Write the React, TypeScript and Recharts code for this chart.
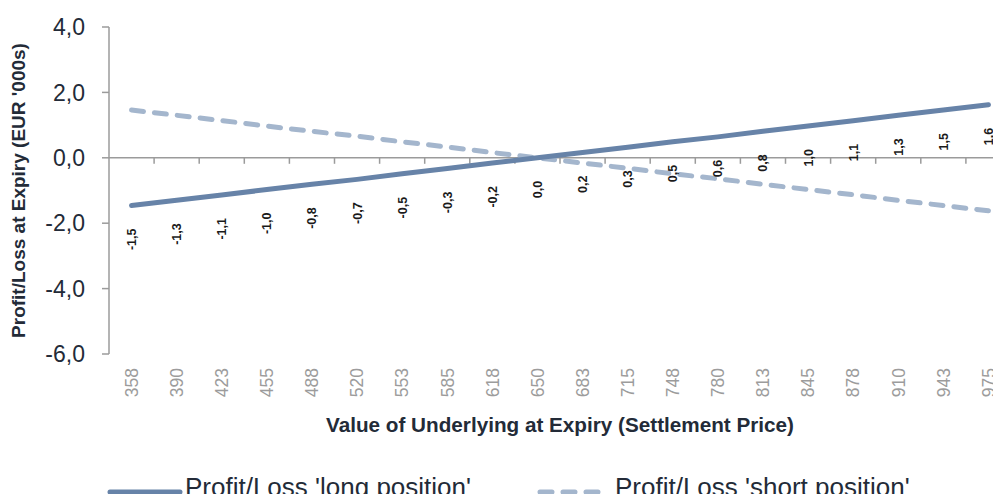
import React from 'react';
import { LineChart, Line, XAxis, YAxis, ReferenceLine, LabelList, Legend } from 'recharts';

const prices = [358, 390, 423, 455, 488, 520, 553, 585, 618, 650, 683, 715, 748, 780, 813, 845, 878, 910, 943, 975];
const longPL = [-1.46, -1.3, -1.14, -0.97, -0.81, -0.66, -0.49, -0.33, -0.16, 0.0, 0.16, 0.32, 0.49, 0.64, 0.81, 0.97, 1.13, 1.3, 1.46, 1.62];
const shortPL = [1.46, 1.3, 1.14, 0.97, 0.81, 0.66, 0.49, 0.33, 0.16, 0.0, -0.16, -0.32, -0.49, -0.64, -0.81, -0.97, -1.13, -1.3, -1.46, -1.62];
const yTicks = [-6, -4, -2, 0, 2, 4];

const LONG_NAME = "Profit/Loss 'long position'";
const SHORT_NAME = "Profit/Loss 'short position'";

const data = prices.map((p, i) => ({ price: String(p), long: longPL[i], short: shortPL[i] }));

const FONT = '"Liberation Sans", Arial, sans-serif';
const LONG_COLOR = '#6783a8';
const SHORT_COLOR = '#a4b6cd';
const AXIS_COLOR = '#9b9b9b';
const TEXT_COLOR = '#232b38';

const fmt = (v: number) => v.toFixed(1).replace('.', ',');

const XTick = (props: any) => {
  const { x, y, payload } = props;
  return (
    <text
      x={x}
      y={y}
      transform={`rotate(-90, ${x}, ${y})`}
      textAnchor="end"
      dy="0.36em"
      fill="#9c9c9c"
      fontSize={17.5}
      fontFamily={FONT}
    >
      {payload.value}
    </text>
  );
};

const ValueLabel = (props: any) => {
  const { x, y, value } = props;
  const ty = y + 23;
  return (
    <text
      x={x}
      y={ty}
      transform={`rotate(-90, ${x}, ${ty})`}
      textAnchor="end"
      dy="0.36em"
      fill="#1a1a1a"
      fontSize={12.5}
      fontWeight="bold"
      fontFamily={FONT}
    >
      {fmt(value)}
    </text>
  );
};

const ZeroAxis = (props: any) => {
  const { x1, y1, x2 } = props;
  const n = prices.length;
  const step = (x2 - x1) / n;
  const marks = [];
  for (let i = 1; i <= n; i++) {
    const tx = x1 + i * step;
    marks.push(<line key={i} x1={tx} x2={tx} y1={y1} y2={y1 + 6} stroke={AXIS_COLOR} strokeWidth={1.5} />);
  }
  return (
    <g>
      <line x1={x1} x2={x2} y1={y1} y2={y1} stroke={AXIS_COLOR} strokeWidth={1.5} />
      {marks}
    </g>
  );
};

const LegendContent = () => (
  <div style={{ position: 'relative', width: 1001, height: 34, fontFamily: FONT }}>
    <svg width={1001} height={34} style={{ position: 'absolute', left: 0, top: 0 }}>
      <line x1={110} x2={180} y1={24} y2={24} stroke={LONG_COLOR} strokeWidth={5} strokeLinecap="round" />
      <text x={185} y={28} fontSize={26} fill={TEXT_COLOR} fontFamily={FONT}>{LONG_NAME}</text>
      <line x1={540} x2={598} y1={24} y2={24} stroke={SHORT_COLOR} strokeWidth={5} strokeLinecap="round" strokeDasharray="12 11" />
      <text x={615} y={28} fontSize={26} fill={TEXT_COLOR} fontFamily={FONT}>{SHORT_NAME}</text>
    </svg>
  </div>
);

export default function App() {
  return (
    <div style={{ margin: -8, width: 1001, height: 502, overflow: 'hidden', position: 'relative', background: '#fff' }}>
      <LineChart width={1020} height={502} data={data} margin={{ top: 27, right: 9, bottom: 68, left: 0 }}>
        <XAxis
          dataKey="price"
          type="category"
          scale="band"
          interval={0}
          axisLine={false}
          tickLine={false}
          tickSize={0}
          tickMargin={14}
          height={80}
          tick={<XTick />}
          label={{
            value: 'Value of Underlying at Expiry (Settlement Price)',
            position: 'insideBottom',
            offset: 2,
            style: { fontSize: 20.7, fontWeight: 'bold', fill: TEXT_COLOR, fontFamily: FONT },
          }}
        />
        <YAxis
          type="number"
          domain={[-6, 4]}
          ticks={yTicks}
          interval={0}
          width={109}
          tickSize={7}
          tickMargin={17}
          tickFormatter={fmt}
          axisLine={{ stroke: AXIS_COLOR, strokeWidth: 1.5 }}
          tickLine={{ stroke: AXIS_COLOR, strokeWidth: 1.5 }}
          tick={{ fontSize: 23, fill: TEXT_COLOR, fontFamily: FONT }}
          label={{
            value: "Profit/Loss at Expiry (EUR '000s)",
            angle: -90,
            position: 'insideLeft',
            offset: 18,
            style: { fontSize: 19, fontWeight: 'bold', fill: TEXT_COLOR, fontFamily: FONT, textAnchor: 'middle' },
          }}
        />
        <ReferenceLine y={0} shape={<ZeroAxis />} />
        <Line
          dataKey="short"
          name={SHORT_NAME}
          stroke={SHORT_COLOR}
          strokeWidth={5}
          strokeDasharray="12 11"
          strokeLinecap="round"
          dot={false}
          activeDot={false}
          isAnimationActive={false}
        />
        <Line
          dataKey="long"
          name={LONG_NAME}
          stroke={LONG_COLOR}
          strokeWidth={5}
          strokeLinecap="round"
          dot={false}
          activeDot={false}
          isAnimationActive={false}
        >
          <LabelList dataKey="long" content={<ValueLabel />} />
        </Line>
        <Legend
          layout="horizontal"
          verticalAlign="middle"
          align="center"
          content={<LegendContent />}
          wrapperStyle={{ position: 'absolute', left: 0, top: 468, width: 1001, height: 34 }}
        />
      </LineChart>
    </div>
  );
}
